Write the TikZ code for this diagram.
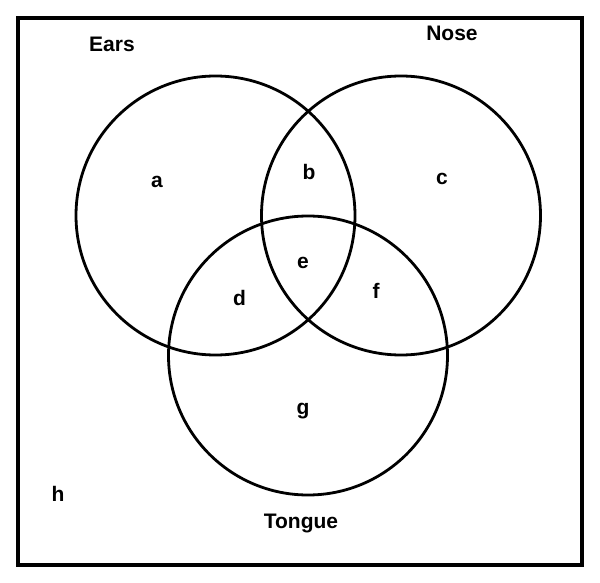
\documentclass[tikz,border=0pt]{standalone}
\usepackage{fontspec}
\setmainfont{Liberation Sans}
\begin{document}
\begin{tikzpicture}[x=1pt,y=-1pt,
  lbl/.style={font=\fontsize{21}{24}\selectfont\bfseries, anchor=base, inner sep=0pt},
  ring/.style={line width=2.8pt},
  frame/.style={line width=4pt}]
\useasboundingbox (0,0) rectangle (600,583);
\draw[frame] (18,18) rectangle (581.5,564.5);
\coordinate (ears) at (215.5,215.5);
\coordinate (nose) at (401,215.5);
\coordinate (tongue) at (308,355.5);
\draw[ring] (ears) circle[radius=139.5];
\draw[ring] (nose) circle[radius=139.5];
\draw[ring] (tongue) circle[radius=139.5];
\node[lbl] (lEars) at (112,52) {Ears};
\node[lbl] (lNose) at (452,41) {Nose};
\node[lbl] (lTongue) at (301,528) {Tongue};
\node[lbl] (a) at (157,187) {a};
\node[lbl] (b) at (309,180) {b};
\node[lbl] (c) at (442,185) {c};
\node[lbl] (d) at (239.5,305) {d};
\node[lbl] (e) at (303,268) {e};
\node[lbl] (f) at (376,298) {f};
\node[lbl] (g) at (303,414) {g};
\node[lbl] (h) at (58,501) {h};
\end{tikzpicture}
\end{document}
